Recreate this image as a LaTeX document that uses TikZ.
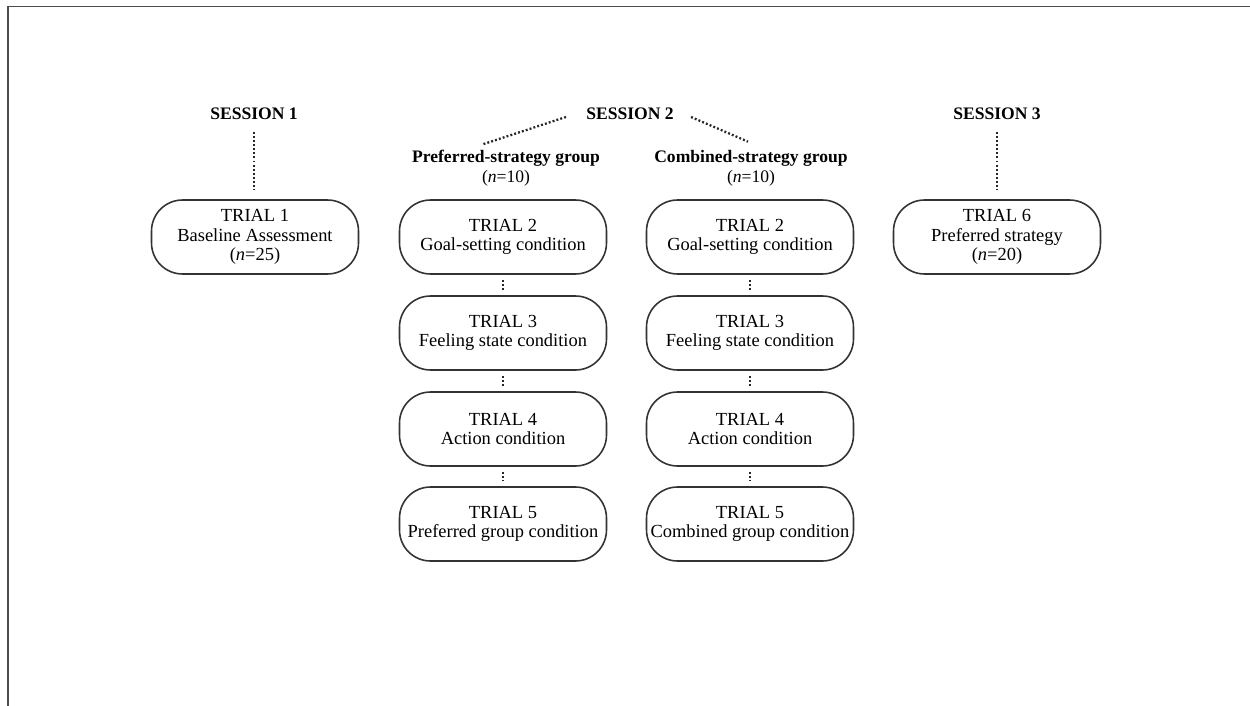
\documentclass[tikz,border=0pt]{standalone}
\usepackage{fontspec}
\setmainfont{Liberation Serif}
\usetikzlibrary{calc}
\begin{document}
\begin{tikzpicture}[x=0.02cm,y=-0.02cm,
  trialbox/.style={draw=black!80, line width=0.9pt, rounded corners=0.62cm,
    minimum width=4.14cm, minimum height=1.48cm, align=center, inner sep=1pt,
    font=\fontsize{10.5}{11}\selectfont},
  hdr/.style={font=\fontsize{10}{11.4}\selectfont\bfseries, inner sep=0pt, align=center},
  dotline/.style={line width=1.3pt, dash pattern=on 1.1pt off 1.2pt, black!85},
  gapdots/.style={dotline, shorten <=0.1cm, shorten >=0.1cm}
]
\useasboundingbox (0,0) rectangle (1250,706);
\draw[line width=1.1pt, black!70] (8,706) -- (8,6.5) -- (1250,6.5);

% headers
\node[hdr] (s1) at (254,114) {SESSION 1};
\node[hdr] (s2) at (630,114) {SESSION 2};
\node[hdr] (s3) at (997,114) {SESSION 3};
\node[hdr] (pg) at (506,168) {Preferred-strategy group\\{\mdseries(\textit{n}=10)}};
\node[hdr] (cg) at (751,168) {Combined-strategy group\\{\mdseries(\textit{n}=10)}};

% trial boxes
\node[trialbox] (t1) at (255,237) {TRIAL 1\\Baseline Assessment\\(\textit{n}=25)};
\node[trialbox] (t6) at (997,237) {TRIAL 6\\Preferred strategy\\(\textit{n}=20)};

\node[trialbox] (p2) at (503,237) {TRIAL 2\\Goal-setting condition};
\node[trialbox] (p3) at (503,333) {TRIAL 3\\Feeling state condition};
\node[trialbox] (p4) at (503,429) {TRIAL 4\\Action condition};
\node[trialbox] (p5) at (503,524) {TRIAL 5\\Preferred group condition};

\node[trialbox] (c2) at (750,237) {TRIAL 2\\Goal-setting condition};
\node[trialbox] (c3) at (750,333) {TRIAL 3\\Feeling state condition};
\node[trialbox] (c4) at (750,429) {TRIAL 4\\Action condition};
\node[trialbox] (c5) at (750,524) {TRIAL 5\\Combined group condition};

% session connectors
\draw[dotline, shorten <=0.24cm, shorten >=0.18cm] (s1.south) -- (s1.south |- t1.north);
\draw[dotline, shorten <=0.24cm, shorten >=0.18cm] (s3.south) -- (s3.south |- t6.north);
\draw[dotline] ($(s2.west)+(-20,3)$) -- ($(pg.north)+(-24,-5)$);
\draw[dotline] ($(s2.east)+(17,3)$) -- ($(cg.north)+(-3,-8)$);

% trial connectors
\draw[gapdots] (p2.south) -- (p3.north);
\draw[gapdots] (p3.south) -- (p4.north);
\draw[gapdots] (p4.south) -- (p5.north);
\draw[gapdots] (c2.south) -- (c3.north);
\draw[gapdots] (c3.south) -- (c4.north);
\draw[gapdots] (c4.south) -- (c5.north);
\end{tikzpicture}
\end{document}
